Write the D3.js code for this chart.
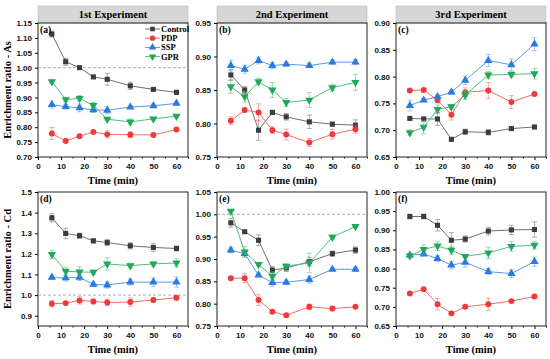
<!DOCTYPE html>
<html>
<head>
<meta charset="utf-8">
<script src="https://cdn.jsdelivr.net/npm/d3@7"></script>
<style>
  body { margin: 0; background: #fff; }
  svg { display: block; font-family: "Liberation Serif", "Times New Roman", serif; font-weight: bold; }
</style>
</head>
<body>
<svg id="ctner"></svg>
<script>
// ---- data ----
const times = [6, 12, 18, 24, 30, 40, 50, 60];
const seriesNames = ["Control", "PDP", "SSP", "GPR"];
const experiments = ["1st Experiment", "2nd Experiment", "3rd Experiment"];
const panelLabels = ["(a)", "(b)", "(c)", "(d)", "(e)", "(f)"];
const rowTitles = ["Enrichment ratio - As", "Enrichment ratio - Cd"];

// series order: Control, PDP, SSP, GPR
const meanA = [
  [1.113, 1.020, 1.000, 0.969, 0.961, 0.939, 0.927, 0.917],
  [0.779, 0.754, 0.770, 0.784, 0.776, 0.775, 0.774, 0.792],
  [0.876, 0.869, 0.865, 0.858, 0.857, 0.868, 0.872, 0.880],
  [0.953, 0.893, 0.897, 0.873, 0.827, 0.818, 0.828, 0.837]
];
const errA = [
  [0.010, 0.012, 0.004, 0.005, 0.020, 0.012, 0.004, 0.007],
  [0.020, 0.004, 0.005, 0.004, 0.012, 0.010, 0.005, 0.005],
  [0.012, 0.008, 0.013, 0.008, 0.012, 0.005, 0.006, 0.005],
  [0.005, 0.008, 0.010, 0.010, 0.005, 0.010, 0.005, 0.005]
];
const meanB = [
  [0.8725, 0.850, 0.790, 0.8165, 0.810, 0.8025, 0.799, 0.7975],
  [0.804, 0.820, 0.8165, 0.790, 0.7835, 0.7715, 0.784, 0.7915],
  [0.8865, 0.881, 0.894, 0.8865, 0.8885, 0.8865, 0.8915, 0.8915],
  [0.855, 0.840, 0.8625, 0.850, 0.8315, 0.835, 0.8535, 0.8615]
];
const errB = [
  [0.008, 0.005, 0.015, 0.003, 0.005, 0.010, 0.003, 0.008],
  [0.006, 0.003, 0.013, 0.005, 0.008, 0.006, 0.007, 0.006],
  [0.008, 0.006, 0.005, 0.005, 0.003, 0.003, 0.003, 0.004],
  [0.010, 0.008, 0.005, 0.011, 0.006, 0.011, 0.005, 0.012]
];
const meanC = [
  [0.722, 0.721, 0.721, 0.683, 0.697, 0.696, 0.703, 0.706],
  [0.774, 0.775, 0.756, 0.729, 0.771, 0.774, 0.7525, 0.7675],
  [0.746, 0.756, 0.7625, 0.771, 0.793, 0.830, 0.822, 0.8605],
  [0.6955, 0.7055, 0.739, 0.744, 0.7655, 0.803, 0.804, 0.8055]
];
const errC = [
  [0.002, 0.003, 0.012, 0.003, 0.005, 0.005, 0.002, 0.002],
  [0.003, 0.003, 0.005, 0.010, 0.008, 0.015, 0.012, 0.003],
  [0.010, 0.003, 0.003, 0.004, 0.008, 0.011, 0.011, 0.012],
  [0.005, 0.012, 0.008, 0.004, 0.008, 0.006, 0.005, 0.010]
];
const meanD = [
  [1.375, 1.299, 1.288, 1.263, 1.255, 1.239, 1.231, 1.226],
  [0.958, 0.961, 0.974, 0.969, 0.964, 0.966, 0.976, 0.987],
  [1.086, 1.083, 1.086, 1.052, 1.049, 1.063, 1.063, 1.063],
  [1.197, 1.116, 1.112, 1.111, 1.151, 1.143, 1.151, 1.156]
];
const errD = [
  [0.020, 0.025, 0.012, 0.010, 0.015, 0.015, 0.020, 0.012],
  [0.015, 0.008, 0.018, 0.012, 0.015, 0.020, 0.010, 0.012],
  [0.010, 0.015, 0.015, 0.010, 0.015, 0.015, 0.020, 0.025],
  [0.020, 0.020, 0.025, 0.010, 0.030, 0.012, 0.010, 0.020]
];
const meanE = [
  [0.981, 0.961, 0.942, 0.875, 0.880, 0.894, 0.912, 0.920],
  [0.857, 0.857, 0.808, 0.782, 0.774, 0.793, 0.789, 0.793],
  [0.920, 0.912, 0.864, 0.847, 0.848, 0.854, 0.877, 0.877],
  [1.007, 0.916, 0.888, 0.861, 0.884, 0.891, 0.949, 0.973]
];
const errE = [
  [0.010, 0.003, 0.012, 0.008, 0.008, 0.010, 0.006, 0.007],
  [0.003, 0.010, 0.012, 0.003, 0.003, 0.006, 0.005, 0.003],
  [0.006, 0.008, 0.004, 0.008, 0.005, 0.008, 0.003, 0.004],
  [0.003, 0.012, 0.003, 0.010, 0.005, 0.022, 0.005, 0.003]
];
const meanF = [
  [0.936, 0.936, 0.913, 0.874, 0.877, 0.898, 0.901, 0.902],
  [0.735, 0.746, 0.707, 0.683, 0.700, 0.707, 0.715, 0.727],
  [0.835, 0.838, 0.826, 0.809, 0.816, 0.792, 0.787, 0.818],
  [0.833, 0.850, 0.859, 0.848, 0.832, 0.841, 0.858, 0.861]
];
const errF = [
  [0.006, 0.006, 0.015, 0.020, 0.008, 0.010, 0.012, 0.020],
  [0.003, 0.003, 0.015, 0.004, 0.003, 0.016, 0.004, 0.005],
  [0.004, 0.004, 0.007, 0.010, 0.012, 0.008, 0.010, 0.012],
  [0.004, 0.012, 0.012, 0.010, 0.003, 0.015, 0.013, 0.010]
];

// y domains and tick values per panel
const yDomains = [[0.70, 1.15], [0.75, 0.95], [0.65, 0.90], [0.85, 1.5], [0.75, 1.05], [0.65, 1.00]];
const yTickSteps = [0.05, 0.05, 0.05, 0.1, 0.05, 0.05];
const dashedAtOne = [true, false, false, true, true, false];

main();

function main() {
  const width = 550;
  const height = 359;
  const svg = d3.select("#ctner").attr("width", width).attr("height", height);

  const means = [meanA, meanB, meanC, meanD, meanE, meanF];
  const errs = [errA, errB, errC, errD, errE, errF];

  /* layout information */
  const lefts = [38, 217, 396];
  const tops = [23, 192];
  const plotW = 150;
  const plotH = 134;

  const colors = ["#3c3c3c", "#f03a3a", "#2a7be0", "#22a85a"];
  const lineColors = ["#707070", "#f46a6a", "#5a9ae8", "#4fbf7e"];
  const symbols = [d3.symbolSquare, d3.symbolCircle, d3.symbolTriangle, d3.symbolTriangle];
  const symSizes = [26, 28, 30, 30];

  for (let p = 0; p < 6; p++) {
    const row = Math.floor(p / 3);
    const col = p % 3;
    const g = svg.append("g")
      .attr("transform", `translate(${lefts[col]}, ${tops[row]})`);

    /* scales */
    const x = d3.scaleLinear().domain([0, 65]).range([0, plotW]);
    const y = d3.scaleLinear().domain(yDomains[p]).range([plotH, 0]);

    // header strip on the top row
    if (row === 0) {
      g.append("rect")
        .attr("x", 0).attr("y", -17).attr("width", plotW).attr("height", 17)
        .attr("fill", "#d6d6d6").attr("stroke", "#bdbdbd").attr("stroke-width", 0.6);
      g.append("text")
        .attr("x", plotW / 2).attr("y", -5)
        .attr("text-anchor", "middle")
        .attr("font-size", 10.5)
        .text(experiments[col]);
    }

    /* axes */
    const step = yTickSteps[p];
    const [y0, y1] = yDomains[p];
    const yTicks = d3.range(Math.ceil(y0 / step - 1e-6), Math.floor(y1 / step + 1e-6) + 1).map((k) => +(k * step).toFixed(2));
    const fmt = step === 0.1 ? d3.format(".1f") : d3.format(".2f");

    g.append("g")
      .attr("transform", `translate(0, ${plotH})`)
      .call(d3.axisBottom(x).tickValues([0, 10, 20, 30, 40, 50, 60]).tickSize(3).tickSizeOuter(0).tickPadding(3).tickFormat(d3.format("d")))
      .call((a) => a.select(".domain").remove())
      .call((a) => a.selectAll("text").attr("font-size", 8).attr("font-family", null).attr("fill", "#111"));
    g.append("g")
      .attr("transform", `translate(0, ${plotH})`)
      .call(d3.axisBottom(x).tickValues([5, 15, 25, 35, 45, 55, 65]).tickSize(1.5).tickFormat(""))
      .call((a) => a.select(".domain").remove());
    g.append("g")
      .call(d3.axisLeft(y).tickValues(yTicks).tickSize(3).tickSizeOuter(0).tickPadding(3).tickFormat(fmt))
      .call((a) => a.select(".domain").remove())
      .call((a) => a.selectAll("text").attr("font-size", 8).attr("font-family", null).attr("fill", "#111"));

    // frame
    g.append("rect")
      .attr("width", plotW).attr("height", plotH)
      .attr("fill", "none").attr("stroke", "#222").attr("stroke-width", 1);

    if (dashedAtOne[p]) {
      g.append("line")
        .attr("x1", 0).attr("x2", plotW)
        .attr("y1", y(1)).attr("y2", y(1))
        .attr("stroke", "#9a9a9a").attr("stroke-width", 0.8).attr("stroke-dasharray", "3,2");
    }

    /* marks */
    const line = d3.line().x((d) => x(d.t)).y((d) => y(d.v));
    means[p].forEach((vals, s) => {
      const pts = vals.map((v, i) => ({ t: times[i], v, e: errs[p][s][i] }));
      const sg = g.append("g");
      sg.append("path")
        .attr("d", line(pts))
        .attr("fill", "none").attr("stroke", lineColors[s]).attr("stroke-width", 1);
      const eb = sg.selectAll("g.err").data(pts).join("g").attr("class", "err")
        .attr("stroke", lineColors[s]).attr("stroke-opacity", 0.7).attr("stroke-width", 0.8);
      eb.append("line")
        .attr("x1", (d) => x(d.t)).attr("x2", (d) => x(d.t))
        .attr("y1", (d) => y(d.v - d.e)).attr("y2", (d) => y(d.v + d.e));
      eb.append("line")
        .attr("x1", (d) => x(d.t) - 2.5).attr("x2", (d) => x(d.t) + 2.5)
        .attr("y1", (d) => y(d.v + d.e)).attr("y2", (d) => y(d.v + d.e));
      eb.append("line")
        .attr("x1", (d) => x(d.t) - 2.5).attr("x2", (d) => x(d.t) + 2.5)
        .attr("y1", (d) => y(d.v - d.e)).attr("y2", (d) => y(d.v - d.e));
      sg.selectAll("path.pt").data(pts).join("path").attr("class", "pt")
        .attr("d", d3.symbol(symbols[s], symSizes[s]))
        .attr("transform", (d) => `translate(${x(d.t)}, ${y(d.v)})` + (s === 3 ? " rotate(180)" : ""))
        .attr("fill", colors[s]);
    });

    // panel label
    g.append("text")
      .attr("x", 2).attr("y", 10)
      .attr("font-size", 9.5)
      .text(panelLabels[p]);

    // axis titles
    g.append("text")
      .attr("x", plotW / 2).attr("y", plotH + 27)
      .attr("text-anchor", "middle")
      .attr("font-size", 10.5)
      .text("Time (min)");
    if (col === 0) {
      g.append("text")
        .attr("transform", `translate(${-27}, ${plotH / 2}) rotate(-90)`)
        .attr("text-anchor", "middle")
        .attr("font-size", 10.5)
        .text(rowTitles[row]);
    }

    // legend in the first panel
    if (p === 0) {
      const lg = g.append("g").attr("transform", `translate(107, 6)`);
      seriesNames.forEach((name, s) => {
        const ly = s * 9.2;
        lg.append("line")
          .attr("x1", 0).attr("x2", 15).attr("y1", ly).attr("y2", ly)
          .attr("stroke", lineColors[s]).attr("stroke-width", 1);
        lg.append("path")
          .attr("d", d3.symbol(symbols[s], symSizes[s] * 0.8))
          .attr("transform", `translate(7.5, ${ly})` + (s === 3 ? " rotate(180)" : ""))
          .attr("fill", colors[s]);
        lg.append("text")
          .attr("x", 16).attr("y", ly + 3)
          .attr("font-size", 8.5)
          .text(name);
      });
    }
  }
}
</script>
</body>
</html>
